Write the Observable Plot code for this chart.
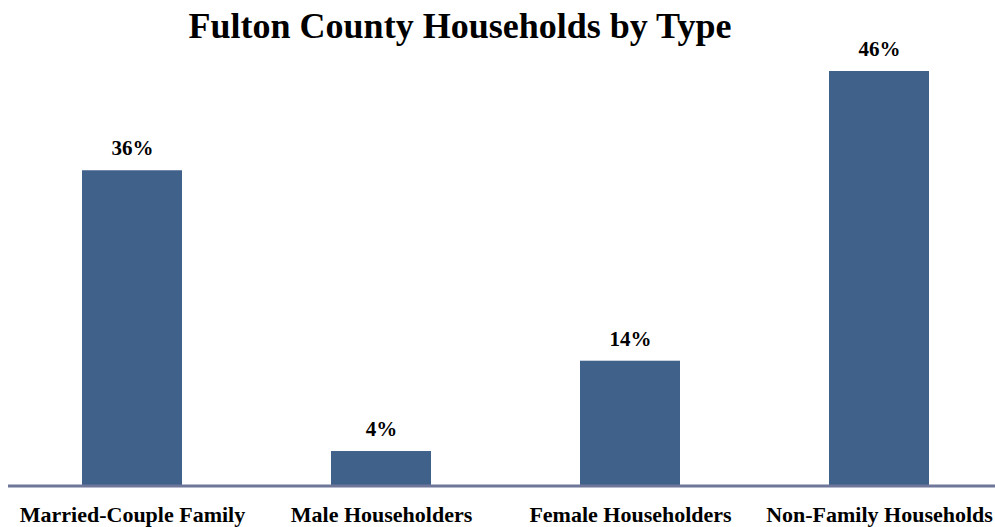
<!DOCTYPE html>
<html>
<head>
<meta charset="utf-8">
<script src="https://cdn.jsdelivr.net/npm/d3@7"></script>
<script src="https://cdn.jsdelivr.net/npm/@observablehq/plot@0.6"></script>
<style>
  html, body { margin: 0; padding: 0; background: #fff; }
  #wrap { position: relative; width: 995px; height: 527px; overflow: hidden; }
  #chart { position: absolute; left: 0; top: 0; }
  #title { position: absolute; left: 0; width: 920px; top: 5px; text-align: center;
    font-family: "Liberation Serif", "DejaVu Serif", serif; font-weight: bold; font-size: 36px; color: #000; z-index: 2; }
</style>
</head>
<body>
<div id="wrap">
  <div id="chart"></div>
  <div id="title">Fulton County Households by Type</div>
</div>
<script>
const categories = ["Married-Couple Family", "Male Householders", "Female Householders", "Non-Family Households"];
const values = [35.2, 3.8, 13.9, 46.3];
const labels = ["36%", "4%", "14%", "46%"];

const data = categories.map((c, i) => ({category: c, value: values[i], label: labels[i]}));

const chart = Plot.plot({
  width: 995,
  height: 527,
  marginTop: 0, marginBottom: 42, marginLeft: 8, marginRight: 0,
  style: {fontFamily: "'Liberation Serif', 'DejaVu Serif', serif", color: "#000", background: "transparent", overflow: "visible"},
  x: {domain: categories, range: [7.5, 1004], paddingInner: 0.6, paddingOuter: 0.3, label: null},
  y: {domain: [0, 46.3], range: [485, 71], axis: null},
  marks: [
    Plot.barY(data, {x: "category", y: "value", fill: "#40618A"}),
    Plot.ruleY([0], {stroke: "#6E7799", strokeWidth: 3, dy: 0.5}),
    Plot.text(data, {x: "category", y: "value", text: "label", dy: -22, fontSize: 21, fontWeight: "bold", fill: "#000"}),
    Plot.axisX({tickSize: 0, tickPadding: 21, fontSize: 22, fontWeight: "bold", label: null})
  ]
});
document.getElementById("chart").appendChild(chart);
</script>
</body>
</html>
